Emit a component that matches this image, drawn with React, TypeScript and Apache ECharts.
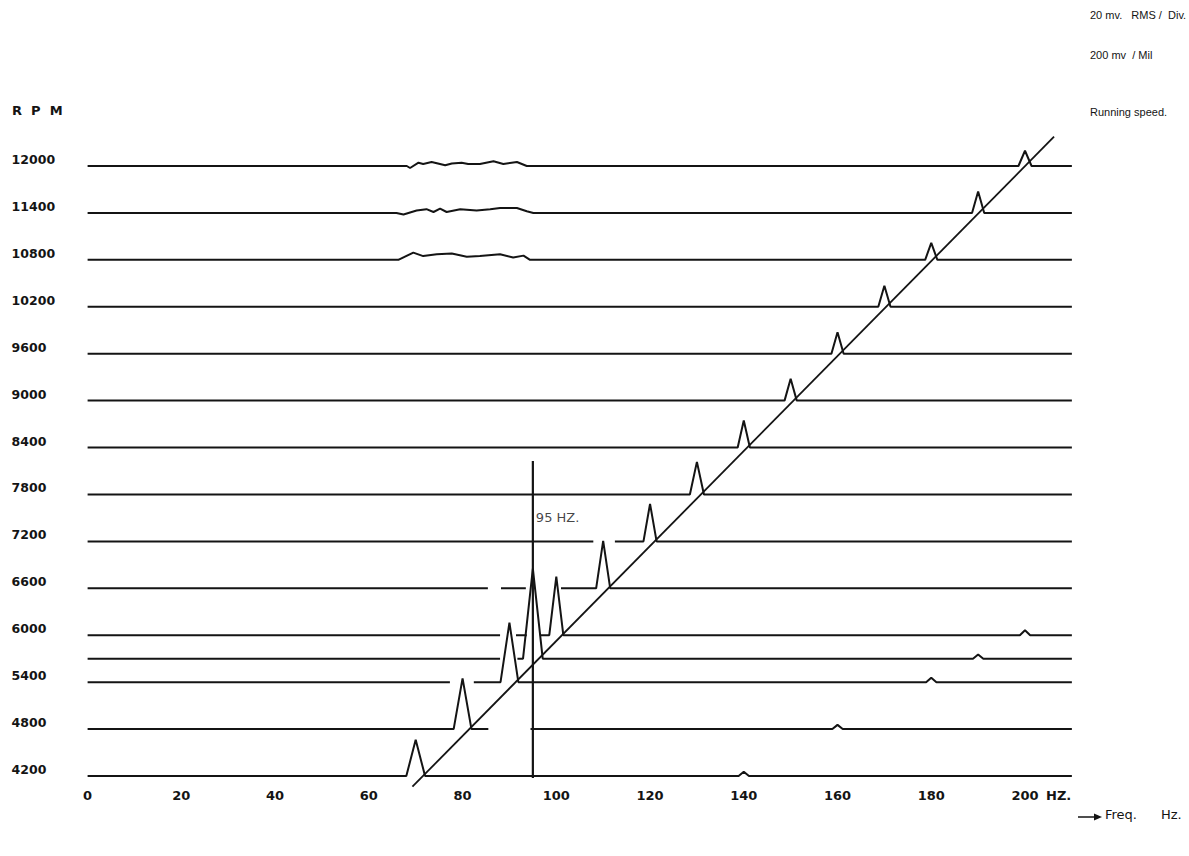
import React, { useEffect, useRef } from "react";
import * as echarts from "echarts";

// ---- data ----
const ROW_RPM = [4200, 4800, 5400, 5700, 6000, 6600, 7200, 7800, 8400, 9000, 9600, 10200, 10800, 11400, 12000];
const Y_TICKS = [4200, 4800, 5400, 6000, 6600, 7200, 7800, 8400, 9000, 9600, 10200, 10800, 11400, 12000];
const X_TICKS = [0, 20, 40, 60, 80, 100, 120, 140, 160, 180, 200];
const FREQ_START = 0;
const FREQ_END = 210;

// running-speed (1X) peaks, one per row
const PEAK_HZ = [70, 80, 90, 95, 100, 110, 120, 130, 140, 150, 160, 170, 180, 190, 200];
const PEAK_MV = [15.4, 21.6, 25.4, 38.4, 25.0, 20.2, 16.0, 13.9, 11.5, 9.3, 9.1, 9.0, 7.2, 9.1, 6.5];
const PEAK_HALF_WIDTH_HZ = [2.0, 1.9, 1.9, 2.1, 1.5, 1.5, 1.4, 1.5, 1.3, 1.3, 1.3, 1.3, 1.3, 1.3, 1.4];

// small 2X bumps
const HARM_RPM = [4200, 4800, 5400, 5700, 6000];
const HARM_HZ = [140, 160, 180, 190, 200];
const HARM_MV = [1.8, 1.8, 1.9, 1.8, 2.1];
const HARM_HALF_WIDTH_HZ = 1.1;

// low-frequency wiggles on the top rows
const WIGGLE_12000_HZ = [68.1, 68.8, 70.6, 71.6, 73.4, 76.3, 77.7, 79.8, 81.2, 83.7, 86.6, 88.7, 91.6, 93.7];
const WIGGLE_12000_MV = [0, -0.85, 1.4, 0.85, 1.7, 0.3, 1.1, 1.4, 0.85, 0.85, 2.0, 0.85, 1.7, 0];
const WIGGLE_11400_HZ = [65.9, 67.4, 70.2, 72.3, 73.8, 75.2, 76.6, 79.5, 83.0, 85.9, 88.0, 91.6, 93.7, 95.1];
const WIGGLE_11400_MV = [0, -0.7, 1.0, 1.6, 0.4, 1.8, 0.4, 1.6, 1.0, 1.6, 2.1, 2.1, 0.7, 0];
const WIGGLE_10800_HZ = [66.3, 69.5, 71.6, 74.5, 77.7, 80.9, 83.7, 88.0, 90.8, 93.0, 94.4];
const WIGGLE_10800_MV = [0, 3.1, 1.6, 2.4, 2.7, 1.3, 1.6, 2.4, 1.0, 1.8, 0];

// hidden-line gaps (Hz) per row
const GAP_RPM = [4800, 5400, 5700, 6000, 6000, 6600, 6600, 7200];
const GAP_FROM_HZ = [85.5, 77.3, 88.0, 88.0, 93.7, 85.4, 93.5, 107.9];
const GAP_TO_HZ = [94.5, 82.4, 91.7, 91.4, 96.5, 88.2, 101.0, 112.5];

// running speed line and 95 Hz marker
const RUNNING_SPEED_HZ = [69.3, 206.2];
const RUNNING_SPEED_RPM = [4063, 12375];
const MARK_HZ = 95;
const MARK_RPM = [8228, 4174];
const MARK_LABEL_RPM = 7500;

// 20 mV per division, one division = one 600 RPM row spacing
const MV_TO_RPM = 600 / 20;

const INK = "#141414";
const FONT = "DejaVu Sans";
const NOTE_FONT = "Liberation Sans";

type Pt = { x: number; a: number | null };

function buildRow(rowIndex: number): (number | string)[][] {
  const rpm = ROW_RPM[rowIndex];
  const pts: Pt[] = [{ x: FREQ_START, a: 0 }, { x: FREQ_END, a: 0 }];
  const f = PEAK_HZ[rowIndex];
  const hw = PEAK_HALF_WIDTH_HZ[rowIndex];
  pts.push({ x: f - hw, a: 0 }, { x: f, a: PEAK_MV[rowIndex] }, { x: f + hw, a: 0 });
  HARM_RPM.forEach((r, i) => {
    if (r === rpm) {
      pts.push(
        { x: HARM_HZ[i] - HARM_HALF_WIDTH_HZ, a: 0 },
        { x: HARM_HZ[i], a: HARM_MV[i] },
        { x: HARM_HZ[i] + HARM_HALF_WIDTH_HZ, a: 0 }
      );
    }
  });
  const addWiggle = (hz: number[], mv: number[]) => hz.forEach((h, i) => pts.push({ x: h, a: mv[i] }));
  if (rpm === 12000) addWiggle(WIGGLE_12000_HZ, WIGGLE_12000_MV);
  if (rpm === 11400) addWiggle(WIGGLE_11400_HZ, WIGGLE_11400_MV);
  if (rpm === 10800) addWiggle(WIGGLE_10800_HZ, WIGGLE_10800_MV);
  GAP_RPM.forEach((r, i) => {
    if (r === rpm) {
      pts.push({ x: GAP_FROM_HZ[i], a: 0 }, { x: (GAP_FROM_HZ[i] + GAP_TO_HZ[i]) / 2, a: null }, { x: GAP_TO_HZ[i], a: 0 });
    }
  });
  pts.sort((p, q) => p.x - q.x);
  return pts.map((p) => [p.x, p.a === null ? "-" : rpm + p.a * MV_TO_RPM]);
}

export default function App() {
  const ref = useRef<HTMLDivElement>(null);
  useEffect(() => {
    if (!ref.current) return;
    const chart = echarts.init(ref.current, null, { renderer: "svg" });
    const left = 87.6;
    const pxPerHz = 4.687;
    const rowSeries = ROW_RPM.map((rpm, i) => ({
      type: "line",
      name: String(rpm),
      data: buildRow(i),
      symbol: "none",
      clip: false,
      connectNulls: false,
      silent: true,
      lineStyle: { color: INK, width: 2 },
    }));
    const option: any = {
      animation: false,
      backgroundColor: "#ffffff",
      grid: { left, top: 166, width: FREQ_END * pxPerHz, height: 610, containLabel: false },
      xAxis: {
        type: "value",
        min: FREQ_START,
        max: FREQ_END,
        interval: 20,
        axisLine: { show: false },
        axisTick: { show: false },
        splitLine: { show: false },
        axisLabel: {
          margin: 13,
          fontFamily: FONT,
          fontWeight: "bold",
          fontSize: 13,
          color: INK,
          formatter: (v: number) => (X_TICKS.indexOf(v) >= 0 ? String(v) : ""),
        },
      },
      yAxis: {
        type: "value",
        min: Y_TICKS[0],
        max: Y_TICKS[Y_TICKS.length - 1],
        interval: 600,
        axisLine: { show: false },
        axisTick: { show: false },
        splitLine: { show: false },
        axisLabel: {
          align: "left",
          verticalAlign: "bottom",
          margin: 76,
          fontFamily: FONT,
          fontWeight: "bold",
          fontSize: 12.5,
          color: INK,
          formatter: (v: number) => (Y_TICKS.indexOf(v) >= 0 ? String(v) : ""),
        },
      },
      series: [
        ...rowSeries,
        {
          type: "line",
          name: "Running speed",
          data: RUNNING_SPEED_HZ.map((h, i) => [h, RUNNING_SPEED_RPM[i]]),
          symbol: "none",
          clip: false,
          silent: true,
          lineStyle: { color: INK, width: 1.8 },
        },
        {
          type: "line",
          name: "95 Hz",
          data: MARK_RPM.map((r) => [MARK_HZ, r]),
          symbol: "none",
          clip: false,
          silent: true,
          lineStyle: { color: INK, width: 2.2 },
        },
        {
          type: "scatter",
          data: [[MARK_HZ, MARK_LABEL_RPM]],
          symbolSize: 0,
          silent: true,
          clip: false,
          label: {
            show: true,
            position: "right",
            distance: 3,
            formatter: "95 HZ.",
            fontFamily: FONT,
            fontSize: 13,
            color: INK,
          },
        },
      ],
      graphic: [
        { type: "text", left: 12, top: 104, style: { text: "R  P  M", font: `bold 13px "${FONT}"`, fill: INK } },
        { type: "text", left: 1090, top: 9, style: { text: "20 mv.   RMS /  Div.", font: `11px "${NOTE_FONT}"`, fill: INK } },
        { type: "text", left: 1090, top: 49, style: { text: "200 mv  / Mil", font: `11px "${NOTE_FONT}"`, fill: INK } },
        { type: "text", left: 1090, top: 106, style: { text: "Running speed.", font: `11px "${NOTE_FONT}"`, fill: INK } },
        { type: "text", left: 1046, top: 789, style: { text: "HZ.", font: `bold 13px "${FONT}"`, fill: INK } },
        { type: "line", shape: { x1: 1078, y1: 817, x2: 1096, y2: 817 }, style: { stroke: INK, lineWidth: 1.5 } },
        { type: "polygon", shape: { points: [[1094, 813.5], [1102, 817], [1094, 820.5]] }, style: { fill: INK } },
        { type: "text", left: 1105, top: 808, style: { text: "Freq.", font: `13px "${FONT}"`, fill: INK } },
        { type: "text", left: 1161, top: 808, style: { text: "Hz.", font: `13px "${FONT}"`, fill: INK } },
      ],
    };
    chart.setOption(option);
    return () => chart.dispose();
  }, []);
  return (
    <div
      ref={ref}
      style={{ position: "fixed", left: 0, top: 0, width: 1189, height: 856, background: "#fff" }}
    />
  );
}
